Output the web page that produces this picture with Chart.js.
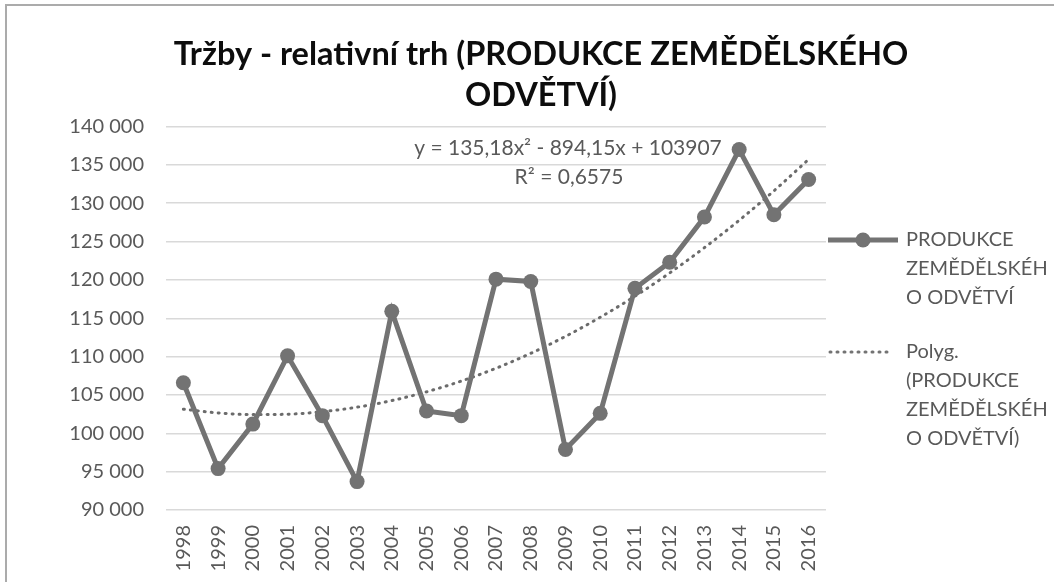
<!DOCTYPE html>
<html>
<head>
<meta charset="utf-8">
<script src="https://cdn.jsdelivr.net/npm/chart.js@4.4.1/dist/chart.umd.min.js"></script>
<style>
  html, body { margin: 0; padding: 0; background: #fff; overflow: hidden; }
  #wrap { position: relative; width: 1054px; height: 582px; }
  #frame { position: absolute; left: 5px; top: 4px; width: 1100px; height: 640px; border: 2px solid #ababab; box-sizing: border-box; }
  #chart { position: absolute; left: 0; top: 0; }
</style>
</head>
<body>
<div id="wrap">
  <div id="frame"></div>
  <canvas id="chart" width="1054" height="582"></canvas>
</div>
<script>
// data
const years = ['1998','1999','2000','2001','2002','2003','2004','2005','2006','2007',
               '2008','2009','2010','2011','2012','2013','2014','2015','2016'];
const production = [106600, 95400, 101200, 110100, 102300, 93700, 115900, 102900, 102300, 120100,
                    119800, 97900, 102600, 118900, 122300, 128200, 137000, 128500, 133100];
// trend line (2nd order polynomial, as shown in the picture)
const trend = [103150, 102660, 102440, 102490, 102820, 103410, 104270, 105410, 106810, 108480,
               110430, 112640, 115130, 117880, 120910, 124210, 127770, 131610, 135720];
const yTicks = { min: 90000, max: 140000, step: 5000 };

const titleLines = ['Tržby - relativní trh (PRODUKCE ZEMĚDĚLSKÉHO', 'ODVĚTVÍ)'];
const seriesLegend = ['PRODUKCE', 'ZEMĚDĚLSKÉH', 'O ODVĚTVÍ'];
const trendLegend = ['Polyg.', '(PRODUKCE', 'ZEMĚDĚLSKÉH', 'O ODVĚTVÍ)'];
const equation = ['y = 135,18x² - 894,15x + 103907', 'R² = 0,6575'];

const grey = '#737373';
const textGrey = '#595959';

// legend markers (line + dot, dotted line)
function marker(dotted) {
  const c = document.createElement('canvas');
  c.width = 91; c.height = 20;
  const g = c.getContext('2d');
  g.strokeStyle = grey;
  g.fillStyle = grey;
  if (dotted) {
    g.lineWidth = 3;
    g.lineCap = 'round';
    g.setLineDash([1, 6]);
    g.beginPath(); g.moveTo(2, 10); g.lineTo(64, 10); g.stroke();
  } else {
    g.lineWidth = 5;
    g.beginPath(); g.moveTo(0, 10); g.lineTo(70, 10); g.stroke();
    g.beginPath(); g.arc(35, 10, 7.5, 0, Math.PI * 2); g.fill();
  }
  return c;
}
const markers = [marker(false), marker(true)];

const equationPlugin = {
  id: 'equation',
  afterDatasetsDraw(chart) {
    const ctx = chart.ctx;
    ctx.save();
    ctx.font = '21px Lato';
    ctx.fillStyle = textGrey;
    ctx.textAlign = 'center';
    ctx.textBaseline = 'middle';
    ctx.fillText(equation[0], 568, 148);
    ctx.fillText(equation[1], 569, 177);
    ctx.restore();
  }
};

const fmt = v => String(v).replace(/\B(?=(\d{3})+(?!\d))/g, ' ');

new Chart(document.getElementById('chart'), {
  type: 'line',
  data: {
    labels: years,
    datasets: [
      {
        label: 'PRODUKCE ZEMĚDĚLSKÉHO ODVĚTVÍ',
        data: production,
        borderColor: grey,
        backgroundColor: grey,
        borderWidth: 5,
        pointRadius: 7.5,
        pointHoverRadius: 7.5,
        pointBackgroundColor: grey,
        pointBorderWidth: 0,
        tension: 0
      },
      {
        label: 'Polyg. (PRODUKCE ZEMĚDĚLSKÉHO ODVĚTVÍ)',
        data: trend,
        borderColor: '#6b6b6b',
        borderWidth: 3,
        borderDash: [1, 6],
        borderCapStyle: 'round',
        pointRadius: 0,
        cubicInterpolationMode: 'monotone',
        fill: false
      }
    ]
  },
  options: {
    responsive: false,
    animation: false,
    devicePixelRatio: 1,
    layout: { padding: { left: 28, top: 8, right: 0, bottom: 0 } },
    plugins: {
      tooltip: { enabled: false },
      title: {
        display: true,
        text: titleLines,
        color: '#0d0d0d',
        font: { family: 'Lato', size: 32.5, weight: 'bold', lineHeight: 1.27 },
        padding: { top: 26, bottom: 10 }
      },
      legend: {
        position: 'right',
        fullSize: false,
        align: 'start',
        maxWidth: 228,
        title: { display: true, text: '', font: { size: 12 }, padding: { top: 64, bottom: 0 } },
        labels: {
          usePointStyle: true,
          pointStyleWidth: 45,
          padding: 25,
          color: textGrey,
          font: { family: 'Lato', size: 20, lineHeight: 1.45 },
          generateLabels(chart) {
            const items = Chart.defaults.plugins.legend.labels.generateLabels(chart);
            const texts = [seriesLegend, trendLegend];
            items.forEach((it, i) => {
              it.text = texts[i];
              it.pointStyle = markers[i];
            });
            return items;
          }
        }
      }
    },
    scales: {
      x: {
        offset: true,
        grid: { display: false, drawTicks: false },
        border: { display: false },
        ticks: {
          color: textGrey,
          font: { family: 'Lato', size: 20 },
          minRotation: 90,
          maxRotation: 90,
          padding: 15,
          autoSkip: false
        },
        afterFit(s) { s.height = 72; }
      },
      y: {
        min: yTicks.min,
        max: yTicks.max,
        grid: { color: '#d9d9d9', lineWidth: 1.5, drawTicks: false },
        border: { display: false },
        ticks: {
          stepSize: yTicks.step,
          color: textGrey,
          font: { family: 'Lato', size: 20 },
          padding: 22,
          callback: v => fmt(v)
        },
        afterFit(s) { s.width = 138; }
      }
    }
  },
  plugins: [equationPlugin]
});
</script>
</body>
</html>
